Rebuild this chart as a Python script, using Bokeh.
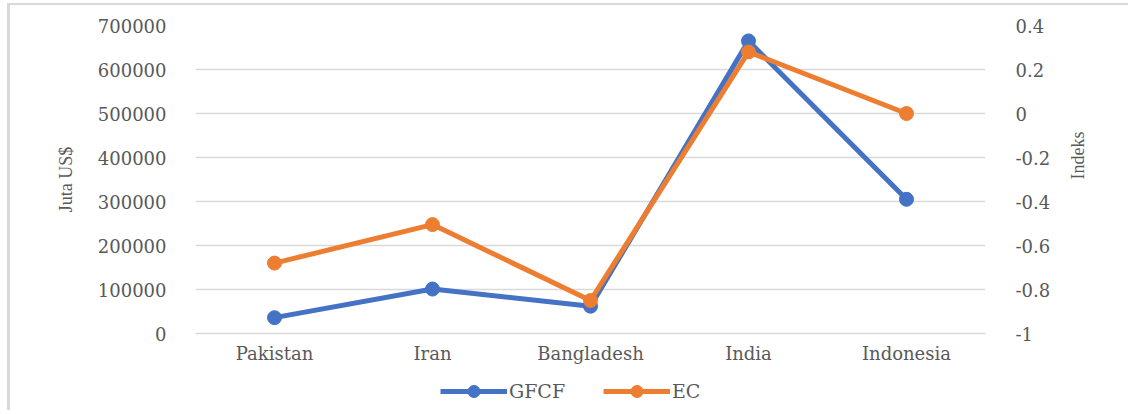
import math
from bokeh.plotting import figure
from bokeh.layouts import column
from bokeh.models import (FactorRange, Range1d, LinearAxis, SingleIntervalTicker,
                          NumeralTickFormatter, CustomJSTickFormatter, Legend, LegendItem)
from bokeh.embed import file_html
from bokeh.resources import INLINE

countries = ["Pakistan", "Iran", "Bangladesh", "India", "Indonesia"]
gfcf = [36000, 101000, 62000, 665000, 305000]
ec = [-0.68, -0.505, -0.85, 0.28, 0.0]
series_names = ["GFCF", "EC"]

BLUE = "#4472C4"
ORANGE = "#ED7D31"
GRID = "#D9D9D9"
TXT = "#595959"
TICKFONT = "DejaVu Serif"

p = figure(width=1118, height=365, x_range=FactorRange(*countries, range_padding=0),
           y_range=Range1d(0, 700000), output_backend="svg", toolbar_location=None,
           min_border_left=185, min_border_right=143, min_border_top=20, min_border_bottom=37)
p.outline_line_color = None
p.extra_y_ranges = {"idx": Range1d(-1, 0.4)}

# left axis
ya = p.yaxis[0]
ya.ticker = SingleIntervalTicker(interval=100000)
ya.formatter = NumeralTickFormatter(format="0")
ya.axis_line_color = None
ya.major_tick_line_color = None
ya.minor_tick_line_color = None
ya.major_label_standoff = 23
ya.major_label_text_font = TICKFONT
ya.major_label_text_font_size = "18px"
ya.major_label_text_color = TXT
ya.axis_label = "Juta US$"
ya.axis_label_text_font = "Liberation Serif"
ya.axis_label_text_font_size = "18px"
ya.axis_label_text_font_style = "normal"
ya.axis_label_text_color = TXT
ya.axis_label_standoff = 19

# right axis
ra = LinearAxis(y_range_name="idx", ticker=SingleIntervalTicker(interval=0.2),
                formatter=CustomJSTickFormatter(code="return String(Number(tick.toFixed(1)));"))
ra.axis_line_color = None
ra.major_tick_line_color = None
ra.minor_tick_line_color = None
ra.major_label_standoff = 24
ra.major_label_text_font = TICKFONT
ra.major_label_text_font_size = "18px"
ra.major_label_text_color = TXT
ra.axis_label = "Indeks"
ra.axis_label_orientation = math.pi / 2
ra.axis_label_text_font = "Liberation Serif"
ra.axis_label_text_font_size = "18px"
ra.axis_label_text_font_style = "normal"
ra.axis_label_text_color = TXT
ra.axis_label_standoff = 25
p.add_layout(ra, "right")

# x axis
xa = p.xaxis[0]
xa.axis_line_color = GRID
xa.axis_line_width = 1.5
xa.major_tick_line_color = None
xa.minor_tick_line_color = None
xa.major_label_standoff = 3
xa.major_label_text_font = TICKFONT
xa.major_label_text_font_size = "18px"
xa.major_label_text_color = TXT

p.xgrid.grid_line_color = None
p.ygrid.grid_line_color = GRID
p.ygrid.grid_line_width = 1.5

p.line(countries, gfcf, line_color=BLUE, line_width=5)
p.scatter(countries, gfcf, size=14, fill_color=BLUE, line_color=BLUE)
p.line(countries, ec, line_color=ORANGE, line_width=5, y_range_name="idx")
p.scatter(countries, ec, size=14, fill_color=ORANGE, line_color=ORANGE, y_range_name="idx")

# legend strip (proxy renderers carry no visible data)
lg = figure(width=1118, height=40, x_range=Range1d(0, 1), y_range=Range1d(0, 1),
            output_backend="svg", toolbar_location=None,
            x_axis_location=None, y_axis_location=None, min_border=0)
lg.outline_line_color = None
lg.grid.visible = False
items = []
for name, col in zip(series_names, [BLUE, ORANGE]):
    r1 = lg.line([float("nan")], [float("nan")], line_color=col, line_width=5)
    r2 = lg.scatter([float("nan")], [float("nan")], size=14, fill_color=col, line_color=col)
    items.append(LegendItem(label=name, renderers=[r1, r2]))
legend = Legend(items=items, orientation="horizontal", location=(245, 4),
                glyph_width=67, glyph_height=30, label_standoff=2, label_width=69,
                spacing=25, padding=0, margin=0, border_line_color=None,
                background_fill_alpha=0,
                label_text_font=TICKFONT, label_text_font_size="19px",
                label_text_color=TXT)
lg.add_layout(legend)

layout = column(p, lg, spacing=0)
layout.styles = {"margin-left": "7px", "margin-top": "3px",
                 "border-left": "3px solid #d9d9d9", "border-top": "2px solid #d9d9d9"}

open("out.html", "w").write(file_html(layout, INLINE))
